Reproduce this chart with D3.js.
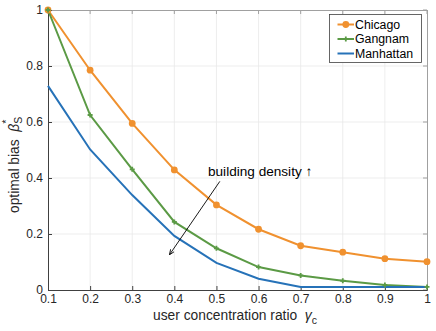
<!DOCTYPE html>
<html><head><meta charset="utf-8">
<script src="https://cdn.jsdelivr.net/npm/d3@7"></script>
<style>body{margin:0;background:#fff}svg{display:block}text{font-family:Helvetica,"Liberation Sans",Arial,sans-serif}</style>
</head><body>
<script>
const xValues = [0.1,0.2,0.3,0.4,0.5,0.6,0.7,0.8,0.9,1.0];
const chicago = [1.0,0.785,0.595,0.429,0.304,0.217,0.158,0.135,0.112,0.101];
const gangnam = [1.0,0.625,0.431,0.243,0.149,0.082,0.052,0.033,0.018,0.011];
const manhattan = [0.729,0.502,0.339,0.193,0.097,0.040,0.011,0.011,0.011,0.011];
const xTicks = [0.1,0.2,0.3,0.4,0.5,0.6,0.7,0.8,0.9,1];
const yTicks = [0,0.2,0.4,0.6,0.8,1];
const seriesNames = ["Chicago","Gangnam","Manhattan"];
const seriesColors = ["#f0912f","#5b9a45","#2672b8"];

const W=436,H=331, L=48, R=427, T=10, B=290;
const svg=d3.select("body").append("svg").attr("width",W).attr("height",H);
const x=d3.scaleLinear().domain([0.1,1]).range([L,R]);
const y=d3.scaleLinear().domain([0,1]).range([B,T]);

// grid
const g=svg.append("g");
g.selectAll(".vg").data(xTicks.slice(1,-1)).enter().append("line")
 .attr("x1",d=>x(d)).attr("x2",d=>x(d)).attr("y1",T).attr("y2",B).attr("stroke","#e8e8e8").attr("stroke-width",0.8);
g.selectAll(".hg").data(yTicks.slice(1,-1)).enter().append("line")
 .attr("y1",d=>y(d)).attr("y2",d=>y(d)).attr("x1",L).attr("x2",R).attr("stroke","#e8e8e8").attr("stroke-width",0.8);

// box top/right
svg.append("line").attr("x1",L).attr("x2",R).attr("y1",T+0.5).attr("y2",T+0.5).attr("stroke","#a0a0a0").attr("stroke-width",1);
svg.append("line").attr("x1",R+0.5).attr("x2",R+0.5).attr("y1",T).attr("y2",B).attr("stroke","#a0a0a0").attr("stroke-width",1);
svg.selectAll(".tt").data(xTicks).enter().append("line").attr("x1",d=>x(d)).attr("x2",d=>x(d)).attr("y1",T).attr("y2",T+4).attr("stroke","#a0a0a0");
svg.selectAll(".rt").data(yTicks).enter().append("line").attr("y1",d=>y(d)).attr("y2",d=>y(d)).attr("x1",R).attr("x2",R-4).attr("stroke","#a0a0a0");

// axes
const fmt=d=>String(+d.toFixed(1));
const xa=svg.append("g").attr("transform",`translate(0,${B})`)
 .call(d3.axisBottom(x).tickValues(xTicks).tickSize(-4).tickPadding(4).tickFormat(fmt));
const ya=svg.append("g").attr("transform",`translate(${L},0)`)
 .call(d3.axisLeft(y).tickValues(yTicks).tickSize(-4).tickPadding(5).tickFormat(fmt));
[xa,ya].forEach(a=>{
 a.select(".domain").attr("stroke","#404040").attr("stroke-width",1);
 a.selectAll(".tick line").attr("stroke","#404040");
 a.selectAll("text").attr("fill","#262626").style("font-size","12px");
});

// lines
const data=[chicago,gangnam,manhattan];
const line=d3.line().x((d,i)=>x(xValues[i])).y(d=>y(d));
data.forEach((s,k)=>{
 svg.append("path").datum(s).attr("d",line).attr("fill","none").attr("stroke",seriesColors[k]).attr("stroke-width",2);
});
svg.selectAll(".cm").data(chicago).enter().append("circle")
 .attr("cx",(d,i)=>x(xValues[i])).attr("cy",d=>y(d)).attr("r",3.4).attr("fill",seriesColors[0]);
const gm=svg.selectAll(".gm").data(gangnam).enter().append("g")
 .attr("transform",(d,i)=>`translate(${x(xValues[i])},${y(d)})`);
gm.append("path").attr("d","M-2.5,0H2.5M0,-2.5V2.5").attr("stroke",seriesColors[1]).attr("stroke-width",1.8);

// legend
const lg=svg.append("g");
lg.append("rect").attr("x",329.5).attr("y",14.5).attr("width",92).attr("height",48).attr("fill","#fff").attr("stroke","#404040").attr("stroke-width",0.8);
seriesNames.forEach((n,k)=>{
 const yy=24.5+k*14.5;
 lg.append("line").attr("x1",337.5).attr("x2",354).attr("y1",yy).attr("y2",yy).attr("stroke",seriesColors[k]).attr("stroke-width",2);
 if(k===0) lg.append("circle").attr("cx",345.8).attr("cy",yy).attr("r",3.4).attr("fill",seriesColors[0]);
 if(k===1) lg.append("path").attr("d",`M343.3,${yy}H348.3M345.8,${yy-2.5}V${yy+2.5}`).attr("stroke",seriesColors[1]).attr("stroke-width",1.8);
 lg.append("text").attr("x",355).attr("y",yy+4.3).text(n).style("font-size","12.3px").attr("fill","#000");
});

// annotation
svg.append("defs").append("marker").attr("id","ah").attr("viewBox","0 0 10 10").attr("refX",9).attr("refY",5)
 .attr("markerWidth",6).attr("markerHeight",6).attr("orient","auto")
 .append("path").attr("d","M0,1L10,5L0,9").attr("fill","none").attr("stroke","#000").attr("stroke-width",1.5);
svg.append("line").attr("x1",x(0.508)).attr("y1",y(0.388)).attr("x2",x(0.389)).attr("y2",y(0.127))
 .attr("stroke","#000").attr("stroke-width",0.9).attr("marker-end","url(#ah)");
svg.append("text").attr("x",208).attr("y",175.5).text("building density ↑").style("font-size","13.6px").attr("fill","#000");

// axis labels
const xl=svg.append("text").attr("x",153).attr("y",320).attr("fill","#262626").style("font-size","13.8px");
xl.append("tspan").text("user concentration ratio\u00a0\u00a0");
xl.append("tspan").text("γ").style("font-style","italic").style("font-size","14px");
xl.append("tspan").text("c").attr("dy",4).style("font-size","10.5px");

const yl=svg.append("text").attr("transform","translate(19,213) rotate(-90)").attr("fill","#262626").style("font-size","13.8px");
yl.append("tspan").text("optimal bias\u00a0\u00a0");
yl.append("tspan").text("β").style("font-style","italic").style("font-size","14px");
yl.append("tspan").text("S").attr("dy",3).style("font-size","10.5px");
yl.append("tspan").text("*").attr("dx",-7).attr("dy",-12.5).style("font-size","10.5px");
</script>
</body></html>
